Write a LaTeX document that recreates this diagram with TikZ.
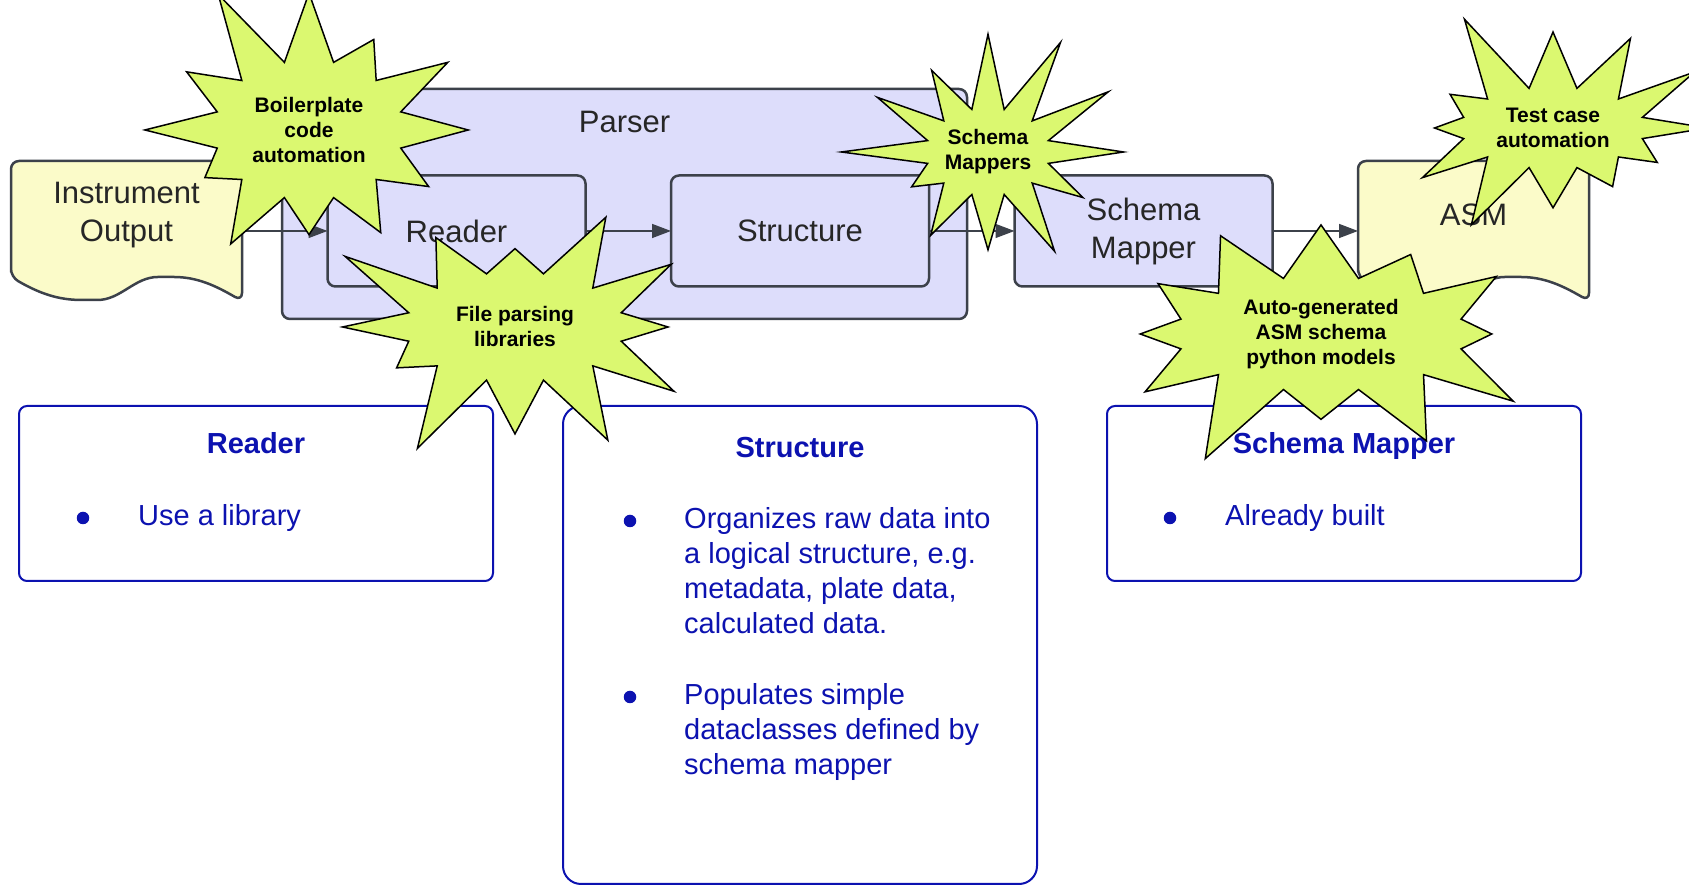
\documentclass[tikz,border=0pt]{standalone}
\usepackage{fontspec}
\setmainfont{Liberation Sans}
\usepackage{tikz}
\usetikzlibrary{arrows.meta}
\usetikzlibrary{calc}
\usetikzlibrary{positioning}
\usetikzlibrary{shapes.symbols}

\definecolor{edgegrey}{RGB}{60,65,74}
\definecolor{labelgrey}{RGB}{38,38,38}
\definecolor{docfill}{RGB}{251,251,201}
\definecolor{parserfill}{RGB}{221,221,251}
\definecolor{burstfill}{RGB}{219,248,112}
\definecolor{infoblue}{RGB}{12,18,176}

\tikzset{flow/.style={draw=edgegrey, line width=2.5pt, fill=parserfill, rounded corners=8pt, outer sep=0pt}}
\tikzset{flowbox/.style={flow, minimum width=258pt, minimum height=111pt, align=center,
    text=labelgrey, font=\fontsize{31}{38}\selectfont}}
\tikzset{docbox/.style={minimum width=231pt, minimum height=140pt, inner sep=0pt, outer sep=0pt}}
\tikzset{doc/.style={draw=edgegrey, line width=2.5pt, fill=docfill, rounded corners=8pt}}
\tikzset{flowlbl/.style={align=center, inner sep=0pt, text=labelgrey, font=\fontsize{31}{38}\selectfont}}
\tikzset{burst/.style={starburst, starburst points=12, starburst point height=90pt, draw=black,
    line width=1.5pt, fill=burstfill, align=center, inner sep=0pt,
    font=\bfseries\fontsize{21}{25}\selectfont}}
\tikzset{infobox/.style={draw=infoblue, line width=2pt, rounded corners=8pt, outer sep=0pt,
    minimum width=474pt, minimum height=175pt}}
\tikzset{infotitle/.style={anchor=base, inner sep=0pt, text=infoblue,
    font=\bfseries\fontsize{29}{35}\selectfont}}
\tikzset{infotext/.style={anchor=base west, align=left, inner sep=0pt, text=infoblue,
    font=\fontsize{29}{35}\selectfont}}
\tikzset{dot/.style={circle, fill=infoblue, inner sep=0pt, minimum size=12.5pt}}

% wavy bottom document outline round an empty node
\newcommand{\docpath}[1]{%
  \path[doc] ($(#1.south west)+(0,24)$) -- (#1.north west) -- (#1.north east) -- (#1.south east)
    to[out=150,in=0] ($(#1.south west)!0.67!(#1.south east)+(0,24)$)
    to[out=180,in=0] ($(#1.south west)!0.34!(#1.south east)+(0,1)$)
    to[out=180,in=-30] cycle;}

\begin{document}
\begin{tikzpicture}[x=1pt,y=1pt,node distance=85.5pt,
                    >={Triangle[length=19pt,width=14pt]}]
   \useasboundingbox (0,0) rectangle (1689,885);

   % parser frame
   \node[flow, minimum width=685pt, minimum height=230pt] (parser) at (624.5,681) {};
   \node[flowlbl] (parsername) [below=22pt of parser.north] {Parser};

   % main flow
   \node[docbox] (io) at (126.5,654) {};
   \docpath{io}
   \node[flowlbl] (iotext) at ([yshift=16pt]io.center) {Instrument\\Output};

   \node[flowbox] (rd) [right=of io] {Reader};
   \node[flowbox] (st) [right=of rd] {Structure};
   \node[flowbox] (sm) [right=of st] {Schema\\Mapper};

   \node[docbox] (asm) [right=of sm] {};
   \docpath{asm}
   \node[flowlbl] (asmtext) at ([yshift=16pt]asm.center) {ASM};

   \path[->, color=edgegrey, line width=1.5pt]
      (io.east) edge (rd.west)
      (rd.east) edge (st.west)
      (st.east) edge (sm.west)
      (sm.east) edge (asm.west);

   % notes below
   \node[infobox] (rdinfo) at (256,391.5) {};
   \node[infobox, rounded corners=18pt, minimum height=478pt] (stinfo)
      [right=70pt of rdinfo.north east, anchor=north west] {};
   \node[infobox] (sminfo) [right=70pt of stinfo.north east, anchor=north west] {};

   \node[infotitle] (rdtitle) at ([yshift=-48pt]rdinfo.north) {Reader};
   \node[infotext] (rditem) at ($(rdinfo.north west)+(119,-120)$) {Use a library};
   \node[dot] at ($(rdinfo.north west)+(64,-112)$) {};

   \node[infotitle] (sttitle) at ([yshift=-52pt]stinfo.north) {Structure};
   \node[infotext] (stitema) at ($(stinfo.north west)+(121,-228)$)
      {Organizes raw data into\\a logical structure, e.g.\\metadata, plate data,\\calculated data.};
   \node[dot] at ($(stinfo.north west)+(67,-115)$) {};
   \node[infotext] (stitemb) at ($(stinfo.north west)+(121,-369)$)
      {Populates simple\\dataclasses defined by\\schema mapper};
   \node[dot] at ($(stinfo.north west)+(67,-291)$) {};

   \node[infotitle] (smtitle) at ([yshift=-48pt]sminfo.north) {Schema Mapper};
   \node[infotext] (smitem) at ($(sminfo.north west)+(118,-120)$) {Already built};
   \node[dot] at ($(sminfo.north west)+(63,-112)$) {};

   % call-outs
   \node[burst, random starburst=11, minimum width=370pt, minimum height=320pt] (bplate)
      at (309,755) {Boilerplate\\code\\automation};
   \node[burst, random starburst=23, minimum width=400pt, minimum height=290pt] (fileparse)
      at (515,558) {File parsing\\libraries};
   \node[burst, random starburst=37, minimum width=305pt, minimum height=268pt] (mappers)
      at (988,733) {Schema\\Mappers};
   \node[burst, random starburst=5, minimum width=365pt, minimum height=262pt] (testcase)
      at (1553,757) {Test case\\automation};
   \node[burst, random starburst=71, minimum width=470pt, minimum height=295pt] (autogen)
      at (1321,551) {Auto-generated\\ASM schema\\python models};
\end{tikzpicture}
\end{document}
